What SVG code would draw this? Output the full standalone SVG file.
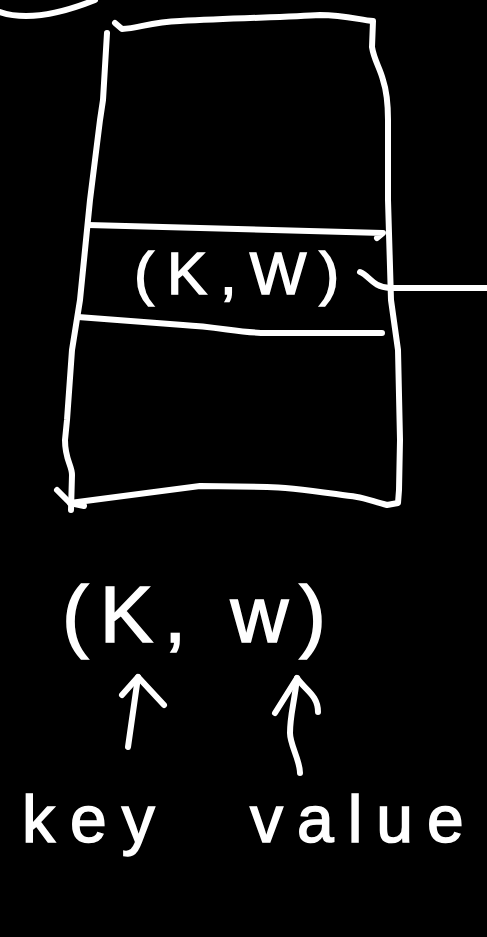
<svg xmlns="http://www.w3.org/2000/svg" width="487" height="937" viewBox="0 0 487 937">
<style>
.s{fill:none;stroke:#fff;stroke-width:6;stroke-linecap:round;stroke-linejoin:round}
.t{fill:#fff;stroke:#fff;stroke-width:1.5;font-family:"Liberation Sans",Arial,sans-serif}
</style>
<rect width="487" height="937" fill="#000"/>
<g id="arc"><path class="s" d="M0,12 Q35,24 95,0"/></g>
<g id="table">
<path class="s" d="M115,23 L122,29 C140,28 150,22 180,21 C240,18 290,17 320,15 C345,15 360,20 373,21 L372,47 C374,60 380,68 383,80 C388,95 388,110 388,120 L388,200 L391,300 L398,350 L400,440 L399,490 L398,503 L387,505 C375,502 365,498 357,497 C320,492 290,487 267,487 L200,486 L70,503"/>
<path class="s" d="M107,33 L103,100 L100,120 L90,200 L80,300 L72,350 L67,420 L65,440 C65,460 72,465 72,475 L71,510"/>
<path class="s" d="M57,490 L70,503 L84,506"/>
<path class="s" d="M88,225 L383,233 L377,238"/>
<path class="s" d="M78,317 L183,325 C220,327 240,333 267,333 L382,333"/>
</g>
<g id="entry">
<text class="t" x="134" y="294" font-size="60" letter-spacing="13">(K,W)</text>
</g>
<g id="connectors">
<path class="s" d="M360,272 C370,276 372,287 390,288 L487,288"/>
<path class="s" d="M128,747 L138,677"/>
<path class="s" d="M122,695 L138,677 L164,705"/>
<path class="s" d="M300,773 C300,760 290,745 290,733 C290,715 294,705 297,678"/>
<path class="s" d="M275,713 L297,678 C305,690 318,695 318,712"/>
</g>
<g id="pair">
<text class="t" x="62" y="642" font-size="80" letter-spacing="11">(K, w)</text>
</g>
<g id="key"><text class="t" x="22" y="842" font-size="66" letter-spacing="15">key</text></g>
<g id="value"><text class="t" x="250" y="842" font-size="66" letter-spacing="14">value</text></g>
</svg>
